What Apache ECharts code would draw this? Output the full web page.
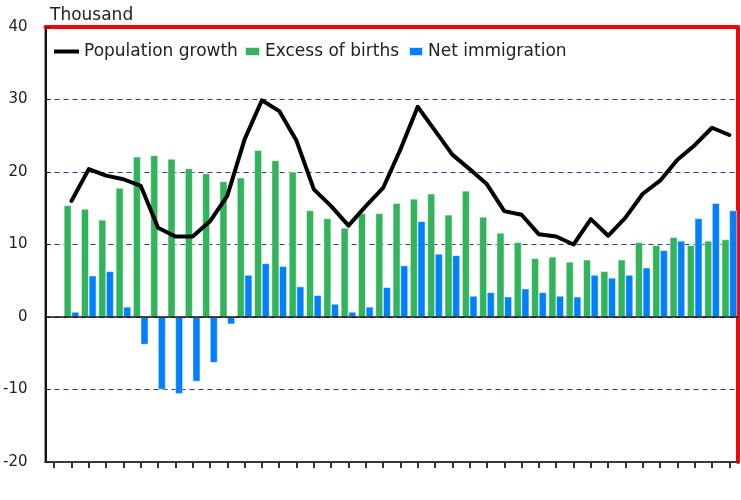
<!DOCTYPE html>
<html>
<head>
<meta charset="utf-8">
<script src="https://cdn.jsdelivr.net/npm/echarts@6/dist/echarts.min.js"></script>
<style>
html,body{margin:0;padding:0;background:#fff;}
#chart{width:741px;height:500px;}
</style>
</head>
<body>
<div id="chart"></div>
<script>
const years = ['1970','1971','1972','1973','1974','1975','1976','1977','1978','1979',
  '1980','1981','1982','1983','1984','1985','1986','1987','1988','1989',
  '1990','1991','1992','1993','1994','1995','1996','1997','1998','1999',
  '2000','2001','2002','2003','2004','2005','2006','2007','2008','2009'];
const excessOfBirths = [null, 15.4, 14.9, 13.4, 17.8, 22.1, 22.3, 21.8, 20.5, 19.8,
  18.7, 19.2, 23.0, 21.6, 20.0, 14.7, 13.6, 12.3, 14.3, 14.3,
  15.7, 16.3, 17.0, 14.1, 17.4, 13.8, 11.6, 10.3, 8.1, 8.3,
  7.6, 7.9, 6.3, 7.9, 10.3, 9.9, 11.0, 9.9, 10.5, 10.7];
const netImmigration = [null, 0.7, 5.7, 6.3, 1.4, -3.8, -10.0, -10.6, -8.9, -6.3,
  -1.0, 5.8, 7.4, 7.0, 4.2, 3.0, 1.8, 0.7, 1.4, 4.1,
  7.1, 13.2, 8.7, 8.5, 2.9, 3.4, 2.8, 3.9, 3.4, 2.9,
  2.8, 5.8, 5.4, 5.8, 6.8, 9.2, 10.5, 13.6, 15.7, 14.7];
const populationGrowth = [null, 16.0, 20.4, 19.5, 19.0, 18.1, 12.3, 11.1, 11.1, 13.2,
  16.7, 24.5, 29.9, 28.4, 24.3, 17.6, 15.3, 12.6, 15.3, 17.8,
  23.1, 29.0, 25.7, 22.4, 20.4, 18.3, 14.6, 14.1, 11.4, 11.1,
  10.0, 13.5, 11.2, 13.7, 17.0, 18.8, 21.7, 23.7, 26.1, 25.1];
const yTicks = {min: -20, max: 40, interval: 10};

const FONT = 'DejaVu Sans';
const BORDER = '#3a3a3a';
const gridPos = {left: 43, right: 3, top: 27, bottom: 38};
const chart = echarts.init(document.getElementById('chart'), null, {renderer: 'canvas'});
chart.setOption({
  animation: false,
  backgroundColor: '#fff',
  title: {
    text: 'Thousand', left: 45, top: 2,
    textStyle: {fontFamily: FONT, fontSize: 17, fontWeight: 'normal', color: '#222'}
  },
  legend: [
    {data: ['Population growth'], left: 49, top: 38, icon: 'rect', itemWidth: 25, itemHeight: 4,
      textStyle: {fontFamily: FONT, fontSize: 17, color: '#222'}},
    {data: ['Excess of births'], left: 239, top: 38, icon: 'rect', itemWidth: 15, itemHeight: 9,
      textStyle: {fontFamily: FONT, fontSize: 17, color: '#222'}},
    {data: ['Net immigration'], left: 403, top: 38, icon: 'rect', itemWidth: 14, itemHeight: 9,
      textStyle: {fontFamily: FONT, fontSize: 17, color: '#222'}}
  ],
  grid: Object.assign({show: true, borderColor: BORDER, borderWidth: 2}, gridPos),
  xAxis: [
    {
      type: 'category', data: years, position: 'bottom', boundaryGap: true,
      axisLine: {show: true, onZero: false, lineStyle: {color: BORDER, width: 2}},
      axisTick: {show: true, alignWithLabel: true, interval: 0, length: 6, lineStyle: {color: '#333', width: 2}},
      axisLabel: {show: false},
      splitLine: {show: false}
    },
    {
      type: 'category', data: years, position: 'top', boundaryGap: true,
      axisLine: {show: true, onZero: false, lineStyle: {color: 'red', width: 4}},
      axisTick: {show: false}, axisLabel: {show: false}, splitLine: {show: false}
    }
  ],
  yAxis: [
    {
      type: 'value', min: yTicks.min, max: yTicks.max, interval: yTicks.interval, position: 'left',
      axisLine: {show: true, onZero: false, lineStyle: {color: '#111', width: 2}},
      axisTick: {show: true, inside: true, length: 5, lineStyle: {color: '#111', width: 1}},
      axisLabel: {margin: 18, fontFamily: FONT, fontSize: 15, color: '#222'},
      splitLine: {show: true, lineStyle: {color: '#33338c', type: [5, 4], width: 1.2}}
    },
    {
      type: 'value', min: yTicks.min, max: yTicks.max, interval: yTicks.interval, position: 'right',
      axisLine: {show: true, onZero: false, lineStyle: {color: 'red', width: 4}},
      axisTick: {show: false}, axisLabel: {show: false}, splitLine: {show: false}
    }
  ],
  series: [
    {
      name: 'Excess of births', type: 'bar', data: excessOfBirths, xAxisIndex: 0, yAxisIndex: 0,
      barGap: '0%', barCategoryGap: '12%',
      itemStyle: {color: '#33b35b', borderColor: 'rgba(255,255,255,0.8)', borderWidth: 0.6},
      markLine: {
        silent: true, symbol: 'none', label: {show: false},
        lineStyle: {type: 'solid', color: '#111', width: 1.5},
        data: [{yAxis: 0}]
      }
    },
    {
      name: 'Net immigration', type: 'bar', data: netImmigration, xAxisIndex: 0, yAxisIndex: 0,
      barGap: '0%', barCategoryGap: '12%',
      itemStyle: {color: '#0080ff', borderColor: 'rgba(255,255,255,0.8)', borderWidth: 0.6}
    },
    {
      name: 'Population growth', type: 'line', data: populationGrowth, xAxisIndex: 0, yAxisIndex: 0,
      showSymbol: false, symbol: 'none', z: 5,
      lineStyle: {color: '#000', width: 4, join: 'round', cap: 'round'},
      itemStyle: {color: '#000'}
    }
  ]
});
</script>
</body>
</html>
